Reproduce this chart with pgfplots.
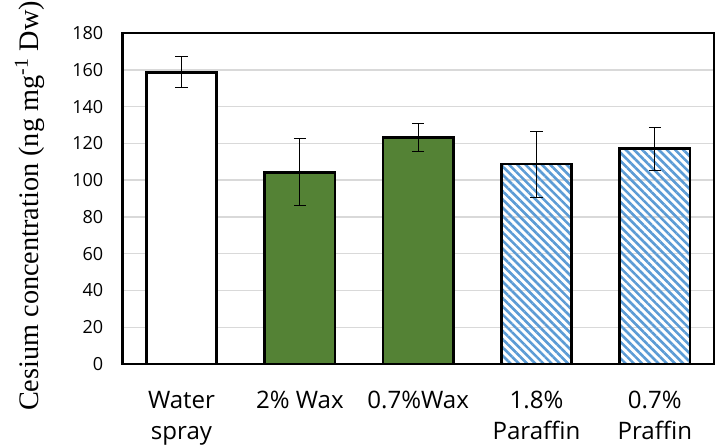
\documentclass[border=0pt]{standalone}
\usepackage{pgfplots}
\pgfplotsset{compat=1.18}
\usepackage{fontspec}
\setmainfont{Liberation Serif}
\newfontfamily\tickfont{Open Sans}
\usetikzlibrary{patterns.meta}
\definecolor{wgreen}{RGB}{84,130,53}
\definecolor{hblue}{RGB}{91,155,213}
\begin{document}
\begin{tikzpicture}
\begin{axis}[
  name=ax,
  scale only axis,
  width=295pt, height=165pt,
  xmin=-0.5, xmax=4.5,
  ymin=0, ymax=180,
  ytick={0,20,...,180},
  xtick={0,1,2,3,4},
  xticklabels={{Water\\spray},{2\% Wax},{0.7\%Wax},{1.8\%\\Paraffin},{0.7\%\\Praffin}},
  x tick label style={font=\tickfont\fontsize{12}{15.5}\selectfont, align=center, anchor=north, yshift=-10pt},
  y tick label style={font=\tickfont\fontsize{9}{10}\selectfont, xshift=-6pt},
  /pgf/number format/assume math mode=true,
  major tick length=0pt,
  ymajorgrids,
  grid style={draw=black!15, line width=0.7pt},
  axis line style={line width=1.2pt},
  ylabel={Cesium concentration (ng mg\textsuperscript{-1} Dw)},
  ylabel style={font=\fontsize{14.1}{16}\selectfont, at={(ticklabel cs:0.478)}},
  ylabel shift=7pt,
  ybar, bar width=35pt, bar shift=0pt,
  clip=false,
]
\addplot[draw=black, line width=1.3pt, fill=white,
  error bars/.cd, y dir=both, y explicit,
  error bar style={line width=0.5pt, black},
  error mark options={rotate=90, mark size=3pt, line width=0.5pt, black}]
  coordinates {(0,158.7) +- (0,8.4)};
\addplot[draw=black, line width=1.3pt, fill=wgreen,
  error bars/.cd, y dir=both, y explicit,
  error bar style={line width=0.5pt, black},
  error mark options={rotate=90, mark size=3pt, line width=0.5pt, black}]
  coordinates {(1,104.2) +- (0,18.2) (2,123.2) +- (0,7.6)};
\addplot[draw=black, line width=1.3pt, fill=white,
  pattern={Lines[angle=-45, distance=2.9pt, line width=1.3pt]}, pattern color=hblue,
  error bars/.cd, y dir=both, y explicit,
  error bar style={line width=0.5pt, black},
  error mark options={rotate=90, mark size=3pt, line width=0.5pt, black}]
  coordinates {(3,108.7) +- (0,18) (4,117.1) +- (0,11.8)};
\end{axis}
\pgfresetboundingbox
\path[use as bounding box] ([shift={(-61pt,-40.5pt)}]ax.south west) rectangle ([shift={(1pt,16.5pt)}]ax.north east);
\end{tikzpicture}
\end{document}
